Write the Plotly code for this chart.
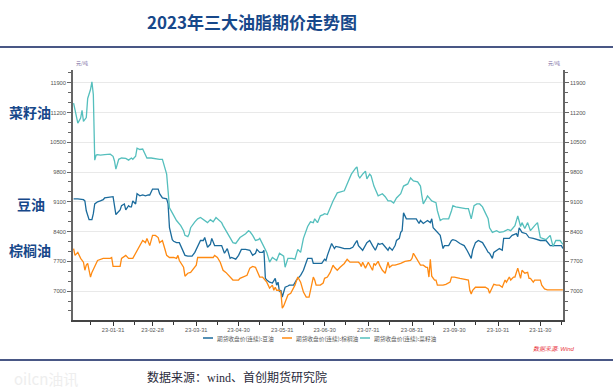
import numpy as np
import pandas as pd
import plotly.graph_objects as go

# ---------------- data (day-of-year, closing price, yuan/ton) ----------------
rapeseed_days = [3, 6, 8, 9, 10, 12, 13, 15, 16, 17, 18, 19, 20, 22, 25, 29, 31, 32, 33, 35, 37, 40, 42, 44, 45, 47, 48, 50, 52, 54, 55, 58, 61, 64, 66, 67, 69, 70, 71, 73, 74, 76, 79, 81, 82, 84, 85, 86, 89, 91, 93, 95, 96, 98, 100, 102, 104, 105, 108, 109, 111, 113, 115, 116, 118, 121, 125, 127, 128, 130, 132, 134, 135, 137, 138, 139, 140, 142, 144, 147, 149, 152, 153, 155, 158, 160, 162, 164, 165, 166, 169, 171, 173, 174, 176, 178, 180, 181, 183, 185, 187, 190, 193, 195, 197, 198, 200, 203, 204, 205, 206, 208, 209, 210, 211, 213, 214, 216, 219, 222, 224, 226, 228, 230, 232, 235, 237, 239, 240, 242, 244, 247, 249, 250, 251, 253, 254, 257, 260, 261, 263, 265, 267, 269, 271, 272, 274, 277, 281, 283, 285, 287, 289, 291, 293, 295, 297, 298, 300, 303, 305, 308, 311, 313, 316, 318, 320, 321, 323, 325, 327, 330, 332, 334, 336, 338, 341, 343, 345, 348, 350]
rapeseed_vals = [11420, 10950, 11070, 11250, 10990, 11080, 11530, 11740, 11920, 11620, 10080, 10200, 10210, 10200, 10210, 10220, 10170, 10060, 9870, 10100, 10130, 10120, 10080, 10130, 10100, 10170, 10360, 10330, 10340, 10220, 10130, 10130, 10110, 10100, 10100, 10000, 9750, 9360, 8960, 8840, 8770, 8660, 8540, 8420, 8310, 8280, 8350, 8490, 8630, 8700, 8730, 8680, 8660, 8610, 8680, 8630, 8730, 8700, 8610, 8540, 8420, 8310, 8190, 8140, 8120, 8260, 8350, 8420, 8400, 8310, 8190, 8210, 8240, 8120, 8030, 7980, 7910, 7680, 7790, 7720, 7890, 7820, 7560, 7770, 7770, 7750, 7980, 7910, 8070, 8240, 8520, 8630, 8610, 8700, 8610, 8770, 8800, 8820, 8800, 8960, 9120, 9310, 9330, 9360, 9520, 9590, 9750, 9890, 9920, 9710, 9660, 9750, 9780, 9820, 9640, 9750, 9710, 9470, 9240, 9290, 9220, 9120, 9120, 9070, 9190, 9290, 9470, 9500, 9520, 9660, 9590, 9570, 9470, 9240, 9050, 9170, 9240, 9120, 9080, 8890, 8660, 8700, 8700, 8700, 8890, 9010, 8980, 8960, 8940, 8940, 8700, 9010, 9050, 9050, 8980, 8840, 8700, 8490, 8380, 8420, 8380, 8400, 8450, 8420, 8540, 8770, 8520, 8610, 8470, 8610, 8420, 8540, 8610, 8260, 8240, 8210, 8310, 8050, 8190, 8190, 8100]

soybean_days = [3, 6, 10, 11, 12, 13, 14, 16, 17, 18, 20, 22, 24, 25, 29, 31, 33, 35, 36, 37, 39, 40, 42, 43, 44, 45, 47, 48, 50, 52, 54, 56, 57, 59, 61, 63, 64, 66, 69, 70, 71, 73, 74, 76, 78, 80, 82, 84, 87, 89, 91, 93, 95, 96, 98, 100, 101, 103, 105, 108, 110, 112, 114, 115, 118, 120, 122, 125, 128, 130, 132, 133, 135, 137, 138, 139, 140, 142, 144, 146, 147, 148, 149, 150, 151, 153, 155, 156, 159, 161, 164, 166, 168, 169, 172, 173, 176, 179, 181, 182, 183, 185, 186, 188, 189, 192, 195, 199, 201, 203, 204, 205, 208, 211, 213, 215, 217, 219, 220, 222, 224, 226, 227, 229, 231, 232, 234, 235, 236, 237, 239, 242, 244, 246, 248, 249, 251, 254, 256, 257, 258, 260, 263, 265, 266, 269, 271, 272, 274, 277, 280, 282, 283, 285, 286, 288, 290, 293, 295, 297, 298, 300, 301, 303, 305, 307, 308, 312, 314, 317, 318, 319, 321, 324, 326, 329, 332, 334, 338, 341, 344, 349, 350]
soybean_vals = [9170, 9170, 9150, 9120, 8890, 8770, 8680, 8680, 8820, 9050, 9100, 9120, 9150, 9190, 9220, 9220, 8800, 8890, 8910, 9010, 9050, 8910, 9010, 8980, 8980, 9120, 9050, 9290, 9240, 9260, 9240, 9260, 9260, 9400, 9400, 9400, 9290, 9190, 9170, 9050, 8490, 8210, 8170, 8140, 8140, 8000, 7840, 7820, 7820, 7910, 8070, 8190, 8190, 8260, 8030, 8100, 8240, 8070, 8070, 8070, 7890, 8000, 7770, 7790, 7750, 7840, 7980, 7980, 7960, 7840, 7890, 7980, 7910, 7910, 7960, 7300, 7260, 7210, 7190, 7300, 7140, 7210, 6980, 7020, 6860, 7090, 7120, 7140, 7140, 7260, 7370, 7490, 7680, 7770, 7770, 7650, 7650, 7650, 7750, 7720, 7840, 8030, 8120, 8000, 8050, 8030, 8000, 8000, 8030, 8140, 8190, 8070, 7960, 8140, 8190, 8070, 7960, 8120, 8100, 8120, 8050, 7960, 8030, 7960, 8070, 8190, 8240, 8380, 8420, 8840, 8700, 8700, 8700, 8700, 8590, 8660, 8590, 8660, 8610, 8700, 8490, 8420, 8310, 8000, 8070, 8070, 8190, 8210, 8190, 8120, 8070, 7960, 7890, 7770, 7960, 8140, 8190, 8140, 8030, 7910, 7890, 7770, 7910, 7960, 8000, 7960, 8240, 8240, 8310, 8350, 8280, 8490, 8380, 8350, 8260, 8240, 8210, 8190, 8190, 8070, 8070, 8070, 8000]

palm_days = [3, 4, 6, 8, 10, 11, 12, 13, 14, 15, 16, 18, 20, 24, 29, 30, 31, 36, 37, 40, 42, 45, 47, 48, 50, 52, 54, 55, 57, 59, 61, 63, 64, 66, 68, 69, 71, 74, 76, 77, 78, 80, 81, 82, 84, 86, 88, 90, 91, 93, 98, 100, 102, 103, 105, 107, 109, 111, 114, 116, 118, 120, 121, 124, 126, 128, 130, 132, 133, 135, 137, 139, 140, 142, 144, 145, 146, 147, 149, 150, 151, 152, 154, 155, 157, 159, 160, 162, 164, 166, 168, 170, 171, 173, 174, 175, 178, 180, 181, 183, 185, 187, 188, 190, 192, 195, 197, 199, 203, 205, 206, 207, 208, 210, 212, 213, 215, 216, 217, 219, 220, 222, 224, 226, 227, 229, 231, 235, 238, 242, 243, 244, 246, 247, 249, 251, 253, 254, 255, 256, 257, 259, 260, 261, 263, 265, 267, 270, 271, 273, 277, 280, 283, 284, 285, 286, 288, 291, 295, 297, 298, 300, 301, 303, 305, 307, 309, 310, 312, 313, 315, 316, 317, 318, 320, 321, 323, 325, 326, 327, 329, 330, 332, 334, 335, 337, 339, 343, 350]
palm_vals = [8000, 7840, 7910, 7770, 7680, 7490, 7610, 7650, 7490, 7330, 7440, 7580, 7720, 7770, 7770, 7790, 7580, 7580, 7770, 7840, 7770, 7770, 7890, 7960, 8070, 8190, 8140, 8240, 8070, 8310, 8310, 8260, 8140, 8190, 7960, 7840, 7790, 7790, 7770, 7840, 7720, 7610, 7560, 7350, 7420, 7440, 7540, 7610, 7790, 7790, 7790, 7790, 7790, 7840, 7790, 7680, 7490, 7440, 7330, 7260, 7260, 7260, 7300, 7350, 7370, 7540, 7580, 7560, 7490, 7330, 7330, 7260, 7210, 7070, 7140, 7020, 7090, 7020, 7020, 6980, 6600, 6650, 6840, 6910, 6950, 7090, 7140, 7330, 7210, 6980, 6860, 6860, 7020, 7330, 7260, 7140, 7140, 7190, 7300, 7330, 7440, 7610, 7560, 7490, 7560, 7650, 7750, 7680, 7680, 7680, 7650, 7580, 7680, 7540, 7680, 7610, 7490, 7650, 7610, 7700, 7610, 7490, 7420, 7680, 7560, 7610, 7610, 7650, 7700, 7720, 7770, 7890, 7790, 7720, 7610, 7610, 7560, 7560, 7330, 7750, 7350, 7260, 7260, 7140, 7140, 7140, 7160, 7210, 7330, 7330, 7300, 7280, 7260, 7020, 6930, 7020, 7090, 7090, 7090, 7050, 6950, 7090, 7160, 7140, 7140, 7090, 7260, 7210, 7330, 7260, 7330, 7330, 7440, 7540, 7300, 7490, 7420, 7440, 7300, 7300, 7210, 7260, 7260, 7260, 7140, 7050, 7030, 7030, 7030]

series_names = ["期货收盘价(连续):豆油", "期货收盘价(连续):棕榈油", "期货收盘价(连续):菜籽油"]
side_labels = ["菜籽油", "豆油", "棕榈油"]
y_tick_vals = [7000, 7700, 8400, 9100, 9800, 10500, 11200, 11900]
x_tick_dates = ["2023-01-31", "2023-02-28", "2023-03-31", "2023-04-30", "2023-05-31", "2023-06-30",
                "2023-07-31", "2023-08-31", "2023-09-30", "2023-10-31", "2023-11-30"]
x_tick_text = ["23-01-31", "23-02-28", "23-03-31", "23-04-30", "23-05-31", "23-06-30",
               "23-07-31", "23-08-31", "23-09-30", "23-10-31", "23-11-30"]
title_text = "2023年三大油脂期价走势图"
source_text = "数据来源：wind、首创期货研究院"

# ---------------- styling ----------------
W, H = 613, 390
L, R, T, B = 73, 50, 70, 70
PW, PH = W - L - R, H - T - B
C_SOY = "#1b6b9c"
C_PALM = "#ff8a12"
C_RAPE = "#55bfbd"
TITLE_BLUE = "#17488a"
CJK = "Noto Sans CJK SC, Noto Sans, sans-serif"
SANS = "Liberation Sans, Noto Sans CJK SC, sans-serif"


def px(x):
    return (x - L) / PW


def py(y):
    return (H - B - y) / PH


def to_dates(days):
    return pd.Timestamp("2023-01-01") + pd.to_timedelta(np.array(days) - 1, unit="D")


fig = go.Figure()
fig.add_trace(go.Scatter(x=to_dates(soybean_days), y=soybean_vals, mode="lines",
                         line=dict(color=C_SOY, width=1.3), name=series_names[0]))
fig.add_trace(go.Scatter(x=to_dates(palm_days), y=palm_vals, mode="lines",
                         line=dict(color=C_PALM, width=1.3), name=series_names[1]))
fig.add_trace(go.Scatter(x=to_dates(rapeseed_days), y=rapeseed_vals, mode="lines",
                         line=dict(color=C_RAPE, width=1.3), name=series_names[2], yaxis="y2"))

yrange = [6320, 12200]
ytickfont = dict(size=5.8, color="#555555", family=SANS)
xtickfont = dict(size=5.6, color="#555555", family=SANS)
axis_common = dict(range=yrange, tickvals=y_tick_vals, ticktext=[str(v) for v in y_tick_vals],
                   ticks="outside", ticklen=4, tickcolor="#666666", showline=True,
                   linecolor="#666666", linewidth=1.5, tickfont=ytickfont, zeroline=False,
                   minor=dict(tickmode="linear", tick0=7000, dtick=700 / 3, ticks="outside",
                              ticklen=3, tickcolor="#666666", showgrid=False))

fig.update_layout(
    width=W, height=H, margin=dict(l=L, r=R, t=T, b=B),
    paper_bgcolor="white", plot_bgcolor="white", showlegend=False,
    xaxis=dict(range=["2023-01-02 14:00", "2023-12-16 02:00"], tickvals=x_tick_dates,
               ticktext=x_tick_text, ticks="outside", ticklen=4, tickcolor="#333333",
               showline=True, linecolor="#444444", linewidth=1.5, showgrid=False,
               tickfont=xtickfont, zeroline=False,
               minor=dict(tickmode="array",
                          tickvals=["2023-01-15", "2023-02-15", "2023-03-15", "2023-04-15",
                                    "2023-05-15", "2023-06-15", "2023-07-15", "2023-08-15",
                                    "2023-09-15", "2023-10-15", "2023-11-15", "2023-12-15"],
                          ticks="outside", ticklen=3, tickcolor="#333333", showgrid=False)),
    yaxis=dict(showgrid=True, gridcolor="#e9e9e9", gridwidth=1, side="left", **axis_common),
    yaxis2=dict(overlaying="y", side="right", showgrid=False, **axis_common),
)

annotations = [
    dict(text=f"<b>{title_text}</b>", x=px(252), y=py(21), xref="paper", yref="paper",
         showarrow=False, xanchor="center", yanchor="middle",
         font=dict(size=17, color=TITLE_BLUE, family=CJK)),
    dict(text=f"<b>{side_labels[0]}</b>", x=px(30), y=py(112), xref="paper", yref="paper",
         showarrow=False, xanchor="center", yanchor="middle",
         font=dict(size=14, color=TITLE_BLUE, family=CJK)),
    dict(text=f"<b>{side_labels[1]}</b>", x=px(31), y=py(204), xref="paper", yref="paper",
         showarrow=False, xanchor="center", yanchor="middle",
         font=dict(size=14, color=TITLE_BLUE, family=CJK)),
    dict(text=f"<b>{side_labels[2]}</b>", x=px(30), y=py(250), xref="paper", yref="paper",
         showarrow=False, xanchor="center", yanchor="middle",
         font=dict(size=14, color=TITLE_BLUE, family=CJK)),
    dict(text=source_text, x=px(145), y=py(377), xref="paper", yref="paper",
         showarrow=False, xanchor="left", yanchor="middle",
         font=dict(size=12, color="#2a2a3a", family="Liberation Serif, Noto Sans CJK SC, serif")),
    dict(text="oilcn油讯", x=px(12), y=py(378), xref="paper", yref="paper",
         showarrow=False, xanchor="left", yanchor="middle",
         font=dict(size=15, color="#eeeeee", family=CJK)),
    dict(text="<i>数据来源: Wind</i>", x=px(577), y=py(348), xref="paper", yref="paper",
         showarrow=False, xanchor="right", yanchor="middle",
         font=dict(size=6, color="#e8323c", family=SANS)),
    dict(text="元/吨", x=px(74), y=py(69), xref="paper", yref="paper",
         showarrow=False, xanchor="left", yanchor="bottom",
         font=dict(size=5, color="#7a6aa0", family=CJK)),
    dict(text="元/吨", x=px(562), y=py(69), xref="paper", yref="paper",
         showarrow=False, xanchor="right", yanchor="bottom",
         font=dict(size=5, color="#7a6aa0", family=CJK)),
]

shapes = [
    dict(type="line", xref="paper", yref="paper", x0=px(0), x1=px(W), y0=py(47), y1=py(47),
         line=dict(color="#0d1f5c", width=1.5)),
    dict(type="line", xref="paper", yref="paper", x0=px(0), x1=px(W), y0=py(360), y1=py(360),
         line=dict(color="#0d1f5c", width=1.5)),
]

# manual legend (short line samples, like the original)
legend_x = [203, 282, 360]
legend_colors = [C_SOY, C_PALM, C_RAPE]
for lx, col, name in zip(legend_x, legend_colors, series_names):
    shapes.append(dict(type="line", xref="paper", yref="paper", x0=px(lx), x1=px(lx + 10),
                       y0=py(338), y1=py(338), line=dict(color=col, width=1.5)))
    annotations.append(dict(text=name, x=px(lx + 12), y=py(338), xref="paper", yref="paper",
                            showarrow=False, xanchor="left", yanchor="middle",
                            font=dict(size=5.7, color="#555555", family=CJK)))

fig.update_layout(annotations=annotations, shapes=shapes)
fig.write_html("out.html", config={"displayModeBar": False},
               post_script="document.body.style.margin='0px';")
